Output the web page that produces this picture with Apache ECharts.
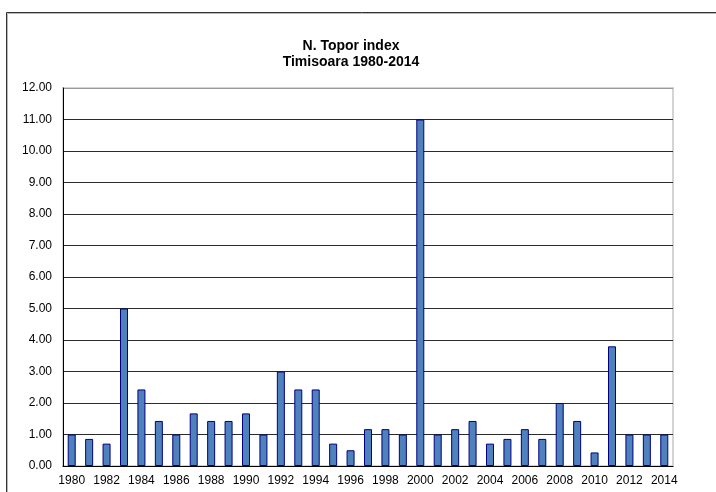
<!DOCTYPE html>
<html>
<head>
<meta charset="utf-8">
<script src="https://cdn.jsdelivr.net/npm/echarts@6/dist/echarts.min.js"></script>
<style>
  html, body { margin: 0; padding: 0; background: #fff; }
  #chart { width: 716px; height: 492px; }
</style>
</head>
<body>
<div id="chart"></div>
<script>
// Years of the series
const years = [];
for (let y = 1980; y <= 2014; y++) years.push(String(y));

// N. Topor index values, one per year
const toporIndex = [
  1.00, 0.86, 0.71, 5.00, 2.43, 1.43, 1.00, 1.67, 1.43, 1.43,
  1.67, 1.00, 3.00, 2.43, 2.43, 0.71, 0.50, 1.17, 1.17, 1.00,
  11.00, 1.00, 1.17, 1.43, 0.71, 0.86, 1.17, 0.86, 2.00, 1.43,
  0.43, 3.80, 1.00, 1.00, 1.00
];

const titleLines = ['N. Topor index', 'Timisoara 1980-2014'];

// Horizontal gridlines: dark inside, grey at the top edge
const splitColors = [];
for (let i = 0; i < 12; i++) splitColors.push('#2b2b2b');
splitColors.push('#9a9a9a');

const chart = echarts.init(document.getElementById('chart'), null, { renderer: 'canvas' });
chart.setOption({
  animation: false,
  backgroundColor: '#ffffff',
  title: {
    text: titleLines.join('\n'),
    left: 346,
    top: 33,
    textAlign: 'center',
    textStyle: {
      fontFamily: 'Liberation Sans, Arial, sans-serif',
      fontWeight: 'bold',
      fontSize: 14,
      lineHeight: 16,
      color: '#000'
    }
  },
  graphic: [
    {
      type: 'polyline',
      shape: { points: [[6.5, 500], [6.5, 12.5], [720, 12.5]] },
      style: { stroke: '#333', lineWidth: 1, fill: null },
      silent: true
    },
    {
      type: 'polyline',
      shape: { points: [[7.5, 500], [7.5, 13.5], [720, 13.5]] },
      style: { stroke: '#b8b8b8', lineWidth: 1, fill: null },
      silent: true
    }
  ],
  grid: {
    left: 63,
    right: 43,
    top: 88,
    bottom: 26,
    show: true,
    borderColor: '#d4d4d4',
    borderWidth: 2,
    backgroundColor: 'transparent'
  },
  xAxis: {
    type: 'category',
    data: years,
    axisLine: { show: true, lineStyle: { color: '#000', width: 1 } },
    axisTick: { show: false },
    axisLabel: {
      interval: 1,
      margin: 9,
      color: '#000',
      fontFamily: 'Liberation Sans, Arial, sans-serif',
      fontSize: 12
    },
    splitLine: { show: false }
  },
  yAxis: {
    type: 'value',
    min: 0,
    max: 12,
    interval: 1,
    axisLine: { show: true, lineStyle: { color: '#000', width: 1 } },
    axisTick: { show: false },
    axisLabel: {
      margin: 11,
      color: '#000',
      fontFamily: 'Liberation Sans, Arial, sans-serif',
      fontSize: 12,
      formatter: v => v.toFixed(2)
    },
    splitLine: { show: true, lineStyle: { color: splitColors, width: 1 } }
  },
  series: [{
    type: 'bar',
    data: toporIndex,
    barWidth: 8,
    itemStyle: {
      color: '#4f81bd',
      borderColor: '#000080',
      borderWidth: 1
    }
  }]
});
</script>
</body>
</html>
